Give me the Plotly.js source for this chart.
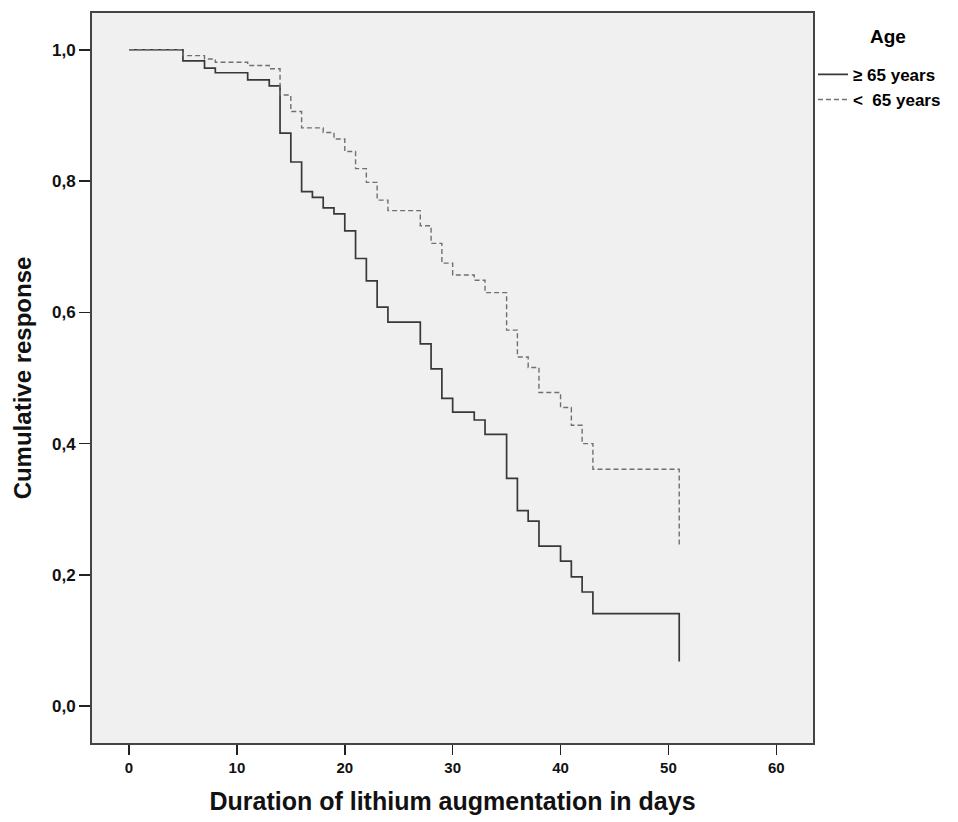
<!DOCTYPE html>
<html>
<head>
<meta charset="utf-8">
<script src="https://cdn.plot.ly/plotly-3.0.1.min.js"></script>
<style>html,body{margin:0;padding:0;background:#fff}#chart{width:958px;height:822px}</style>
</head>
<body>
<div id="chart"></div>
<script>
// Kaplan-Meier style step data
const daysOld = [0, 5, 7, 8, 11, 13, 14, 15, 16, 17, 18, 19, 20, 21, 22, 23, 24, 27, 28, 29, 30, 32, 33, 35, 36, 37, 38, 40, 41, 42, 43, 51];
const respOld = [1.0, 0.983, 0.972, 0.965, 0.954, 0.945, 0.873, 0.829, 0.784, 0.775, 0.759, 0.750, 0.724, 0.682, 0.648, 0.608, 0.585, 0.552, 0.514, 0.469, 0.448, 0.436, 0.414, 0.347, 0.298, 0.282, 0.244, 0.221, 0.197, 0.174, 0.141, 0.068];

const daysYoung = [0, 5, 7, 8, 11, 13, 14, 15, 16, 18, 19, 20, 21, 22, 23, 24, 27, 28, 29, 30, 32, 33, 35, 36, 37, 38, 40, 41, 42, 43, 51];
const respYoung = [1.0, 0.991, 0.986, 0.981, 0.976, 0.971, 0.931, 0.906, 0.881, 0.874, 0.864, 0.845, 0.819, 0.798, 0.771, 0.755, 0.732, 0.705, 0.675, 0.657, 0.649, 0.630, 0.573, 0.532, 0.516, 0.478, 0.455, 0.428, 0.400, 0.361, 0.244];

const seriesNames = ["\u2265 65 years", "<  65 years"];
const legendTitle = "Age";
const xTicks = [0, 10, 20, 30, 40, 50, 60];
const yTicks = [0, 0.2, 0.4, 0.6, 0.8, 1.0];

const FONT = "Liberation Sans, Arial, sans-serif";

const traces = [
  {x: daysOld, y: respOld, mode: "lines", line: {shape: "hv", color: "#383838", width: 1.7}, name: seriesNames[0]},
  {x: daysYoung, y: respYoung, mode: "lines", line: {shape: "hv", color: "#707070", width: 1.4, dash: "5px,3px"}, name: seriesNames[1]}
];

const layout = {
  width: 958, height: 822,
  margin: {l: 92, r: 145, t: 13, b: 79},
  paper_bgcolor: "#ffffff",
  plot_bgcolor: "#f0f0f0",
  separators: ", ",
  font: {family: FONT, color: "#000", size: 13},
  showlegend: true,
  legend: {
    x: 1.0, xanchor: "left", y: 0.94, yanchor: "top",
    xref: "paper", yref: "paper",
    bgcolor: "rgba(0,0,0,0)",
    font: {family: FONT, size: 17, weight: "bold", color: "#000"},
    itemwidth: 30, tracegroupgap: 0
  },
  annotations: [{
    text: "<b>" + legendTitle + "</b>", xref: "paper", yref: "paper",
    x: 1.104, y: 0.968, xanchor: "center", yanchor: "middle", showarrow: false,
    font: {family: FONT, size: 19, color: "#000"}
  }],
  xaxis: {
    range: [-3.43, 63.4],
    tickvals: xTicks,
    ticks: "outside", ticklen: 10, tickwidth: 1.5, tickcolor: "#222",
    showgrid: false, zeroline: false,
    showline: true, mirror: true, linecolor: "#444", linewidth: 2,
    tickfont: {family: FONT, size: 15, weight: "bold", color: "#111"},
    title: {text: "<b>Duration of lithium augmentation in days</b>", font: {family: FONT, size: 25, color: "#111"}, standoff: 17}
  },
  yaxis: {
    range: [-0.056, 1.056],
    tickvals: yTicks, tickformat: ".1f",
    ticks: "outside", ticklen: 11, tickwidth: 1.5, tickcolor: "#222",
    showgrid: false, zeroline: false,
    showline: true, mirror: true, linecolor: "#444", linewidth: 2,
    tickfont: {family: FONT, size: 17, weight: "bold", color: "#111"},
    title: {text: "<b>Cumulative response</b>", font: {family: FONT, size: 24, color: "#111"}, standoff: 14}
  }
};

Plotly.newPlot("chart", traces, layout, {displayModeBar: false, staticPlot: true});
</script>
</body>
</html>
